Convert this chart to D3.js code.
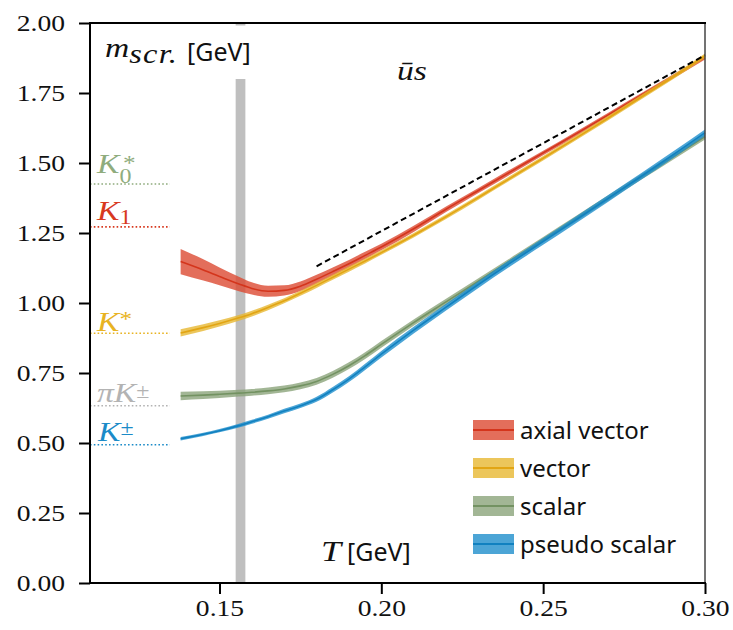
<!DOCTYPE html>
<html>
<head>
<meta charset="utf-8">
<script src="https://cdn.jsdelivr.net/npm/d3@7"></script>
<style>
  html, body { margin: 0; padding: 0; background: #fff; }
  svg { display: block; }
</style>
</head>
<body>
<svg id="chart" width="733" height="630"></svg>
<script>
// Temperature grid (GeV)
const temps = [0.138, 0.145, 0.150, 0.156, 0.160, 0.165, 0.170, 0.175, 0.180, 0.185, 0.190, 0.195,
               0.200, 0.210, 0.220, 0.230, 0.240, 0.250, 0.260, 0.270, 0.280, 0.290, 0.300];

// Screening masses (GeV) and half-widths of the uncertainty bands
const axialVector = [1.148, 1.118, 1.095, 1.068, 1.052, 1.042, 1.045, 1.060, 1.085, 1.112, 1.140, 1.170,
                     1.200, 1.265, 1.335, 1.402, 1.469, 1.536, 1.603, 1.671, 1.740, 1.808, 1.877];
const axialVectorErr = [0.045, 0.038, 0.032, 0.026, 0.022, 0.020, 0.018, 0.017, 0.016, 0.015, 0.014, 0.013,
                        0.012, 0.011, 0.010, 0.009, 0.009, 0.008, 0.008, 0.008, 0.007, 0.007, 0.007];

const vector = [0.893, 0.912, 0.927, 0.947, 0.962, 0.984, 1.008, 1.035, 1.063, 1.092, 1.121, 1.150,
                1.180, 1.242, 1.308, 1.377, 1.447, 1.517, 1.588, 1.660, 1.733, 1.806, 1.883];
const vectorErr = [0.013, 0.012, 0.011, 0.010, 0.010, 0.010, 0.009, 0.009, 0.009, 0.009, 0.009, 0.009,
                   0.008, 0.008, 0.008, 0.008, 0.008, 0.008, 0.008, 0.008, 0.008, 0.008, 0.008];

const scalar = [0.668, 0.671, 0.674, 0.678, 0.681, 0.686, 0.693, 0.704, 0.720, 0.745, 0.776, 0.812,
                0.852, 0.930, 1.004, 1.078, 1.152, 1.226, 1.300, 1.374, 1.448, 1.521, 1.594];
const scalarErr = [0.015, 0.014, 0.013, 0.012, 0.012, 0.012, 0.012, 0.012, 0.012, 0.012, 0.012, 0.012,
                   0.012, 0.011, 0.011, 0.010, 0.010, 0.010, 0.010, 0.010, 0.010, 0.010, 0.010];

const pseudoScalar = [0.515, 0.531, 0.544, 0.562, 0.576, 0.594, 0.614, 0.633, 0.656, 0.690, 0.728, 0.772,
                      0.817, 0.903, 0.985, 1.066, 1.144, 1.220, 1.296, 1.373, 1.450, 1.528, 1.608];
const pseudoScalarErr = [0.006, 0.006, 0.006, 0.007, 0.007, 0.007, 0.008, 0.008, 0.009, 0.010, 0.010, 0.011,
                         0.012, 0.012, 0.012, 0.012, 0.012, 0.012, 0.012, 0.012, 0.012, 0.012, 0.012];

// Free-theory limit 2πT, drawn as a dashed segment
const freeT = [0.18, 0.30];
const freeM = [1.131, 1.885];

// Vacuum meson masses (GeV) marked on the left
const vacuumNames = ["K0*", "K1", "K*", "piK", "K"];
const vacuumMasses = [1.425, 1.272, 0.892, 0.633, 0.494];

// Pseudo-critical temperature band (GeV)
const tcBand = [0.155, 0.158];

// Axis ticks
const xTicks = [0.15, 0.20, 0.25, 0.30];
const yTicks = [0, 0.25, 0.5, 0.75, 1.0, 1.25, 1.5, 1.75, 2.0];

const legendLabels = ["axial vector", "vector", "scalar", "pseudo scalar"];

// ---------------------------------------------------------------------
const svg = d3.select("#chart");
svg.append("rect").attr("width", 733).attr("height", 630).attr("fill", "#fff");

const x = d3.scaleLinear().domain([0.11, 0.30]).range([90, 705]);
const y = d3.scaleLinear().domain([0, 2]).range([583, 23]);

const SERIF = "'Liberation Serif', 'Times New Roman', serif";
const SANS = "'Noto Sans', 'DejaVu Sans', sans-serif";
const SX = 1.2;   // horizontal widening of the serif (math) glyphs

const styles = [
  { fill: "#dc4a32", line: "#d4351c" },
  { fill: "#e7b832", line: "#e2a514" },
  { fill: "#8ba47a", line: "#739262" },
  { fill: "#1f8ecc", line: "#1181c0" }
];
const seriesVals = [axialVector, vector, scalar, pseudoScalar];
const seriesErrs = [axialVectorErr, vectorErr, scalarErr, pseudoScalarErr];

// Tc band
svg.append("rect")
  .attr("x", x(tcBand[0])).attr("width", x(tcBand[1]) - x(tcBand[0]))
  .attr("y", y(2)).attr("height", y(0) - y(2))
  .attr("fill", "#bfbfbf");

// Bands and central lines
const plot = svg.append("g");
seriesVals.forEach((vals, i) => {
  const rows = temps.map((t, k) => ({ t, m: vals[k], e: seriesErrs[i][k] }));
  const area = d3.area()
    .x(d => x(d.t)).y0(d => y(d.m - d.e)).y1(d => y(d.m + d.e))
    .curve(d3.curveMonotoneX);
  const line = d3.line().x(d => x(d.t)).y(d => y(d.m)).curve(d3.curveMonotoneX);
  plot.append("path").attr("d", area(rows)).attr("fill", styles[i].fill).attr("fill-opacity", 0.8);
  plot.append("path").attr("d", line(rows)).attr("fill", "none")
    .attr("stroke", styles[i].line).attr("stroke-width", 1.6);
});

// 2πT dashed line
svg.append("path")
  .attr("d", d3.line().x(d => x(d[0])).y(d => y(d[1]))(freeT.map((t, k) => [t, freeM[k]])))
  .attr("fill", "none").attr("stroke", "#000").attr("stroke-width", 2)
  .attr("stroke-dasharray", "6,3.6");

// Vacuum mass markers (dotted)
const vacColors = ["#8fac7d", "#d8391f", "#e8b322", "#b3b3b3", "#1b8bc8"];
vacuumMasses.forEach((m, i) => {
  svg.append("line")
    .attr("x1", x(0.11)).attr("x2", x(0.1347))
    .attr("y1", y(m)).attr("y2", y(m))
    .attr("stroke", vacColors[i]).attr("stroke-width", 1.6)
    .attr("stroke-dasharray", "1.6,2.2");
});

// Helper: math-style text built from pieces with their own baselines
function mathText(px, py, color, pieces) {
  const t = svg.append("text")
    .attr("transform", `translate(${px},${py}) scale(${SX},1)`)
    .attr("fill", color).attr("font-family", SERIF);
  let prev = 0;
  pieces.forEach(p => {
    const s = t.append("tspan").text(p.text)
      .attr("font-size", p.size)
      .attr("font-style", p.italic === false ? "normal" : "italic")
      .attr("dy", (p.base || 0) - prev);
    if (p.dx) s.attr("dx", p.dx);
    if (p.spacing) s.attr("letter-spacing", p.spacing);
    prev = p.base || 0;
  });
  return t;
}

// Vacuum mass labels
const labelX = 97;
mathText(labelX, y(vacuumMasses[0]) - 11, vacColors[0], [
  { text: "K", size: 28 },
  { text: "0", size: 20, italic: false, base: 9.5 },
  { text: "*", size: 21, italic: false, base: -3.5, dx: -7 }
]);
mathText(labelX, y(vacuumMasses[1]) - 6.5, vacColors[1], [
  { text: "K", size: 28 },
  { text: "1", size: 20, italic: false, base: 3.5 }
]);
mathText(labelX, y(vacuumMasses[2]) - 2, vacColors[2], [
  { text: "K", size: 28 },
  { text: "*", size: 21, italic: false, base: -5 }
]);
mathText(labelX, y(vacuumMasses[3]) - 3.5, vacColors[3], [
  { text: "π", size: 28 },
  { text: "K", size: 28 },
  { text: "±", size: 20, italic: false, base: -4.5 }
]);
mathText(labelX + 1, y(vacuumMasses[4]) - 3.5, vacColors[4], [
  { text: "K", size: 28 },
  { text: "±", size: 20, italic: false, base: -6.5 }
]);

// Y-axis label with white box behind it
svg.append("rect").attr("x", 96).attr("y", 25.5).attr("width", 166).attr("height", y(1.8) - 25.5)
  .attr("fill", "#fff");
mathText(105, 57, "#111", [
  { text: "m", size: 28 },
  { text: "scr.", size: 27, base: 6, spacing: 1 }
]);
svg.append("text").attr("x", 187).attr("y", 61).text("[GeV]")
  .attr("font-family", SANS).attr("font-size", 25).attr("fill", "#111");

// Flavour label
mathText(397, 80, "#111", [{ text: "ūs", size: 28 }]);

// X-axis label
mathText(321, 561, "#111", [{ text: "T", size: 30 }]);
svg.append("text").attr("x", 347).attr("y", 561).text("[GeV]")
  .attr("font-family", SANS).attr("font-size", 25).attr("fill", "#111");

// Legend
const legend = svg.append("g");
legendLabels.forEach((name, i) => {
  const cy = 430 + i * 38;
  legend.append("rect").attr("x", 473).attr("y", cy - 10).attr("width", 41).attr("height", 20)
    .attr("fill", styles[i].fill).attr("fill-opacity", 0.8);
  legend.append("line").attr("x1", 473).attr("x2", 514).attr("y1", cy).attr("y2", cy)
    .attr("stroke", styles[i].line).attr("stroke-width", 2);
  legend.append("text").attr("x", 520).attr("y", cy + 9).text(name)
    .attr("font-family", SANS).attr("font-size", 24).attr("fill", "#111");
});

// Axes
const yAxis = svg.append("g").attr("transform", "translate(90,0)")
  .call(d3.axisLeft(y).tickValues(yTicks).tickFormat(d3.format(".2f")).tickSize(11).tickPadding(10));
const xAxis = svg.append("g").attr("transform", "translate(0,583)")
  .call(d3.axisBottom(x).tickValues(xTicks).tickFormat(d3.format(".2f")).tickSize(11).tickPadding(6));
[yAxis, xAxis].forEach(g => {
  g.select(".domain").remove();
  g.selectAll(".tick line").attr("stroke", "#000").attr("stroke-width", 2);
  g.selectAll(".tick text")
    .attr("font-family", SERIF).attr("font-size", 23).attr("fill", "#111");
});
yAxis.selectAll(".tick text").attr("x", -25 / SX).attr("transform", `scale(${SX},1)`);
xAxis.selectAll(".tick text").attr("transform", `scale(${SX},1)`);

// Spines
svg.append("line").attr("x1", 705).attr("x2", 705).attr("y1", 23).attr("y2", 583)
  .attr("stroke", "#444").attr("stroke-width", 1.5);
svg.append("line").attr("x1", 89).attr("x2", 706).attr("y1", 23).attr("y2", 23)
  .attr("stroke", "#000").attr("stroke-width", 2);
svg.append("line").attr("x1", 89).attr("x2", 706).attr("y1", 583).attr("y2", 583)
  .attr("stroke", "#000").attr("stroke-width", 2);
svg.append("line").attr("x1", 90).attr("x2", 90).attr("y1", 22).attr("y2", 584)
  .attr("stroke", "#000").attr("stroke-width", 2);
</script>
</body>
</html>
